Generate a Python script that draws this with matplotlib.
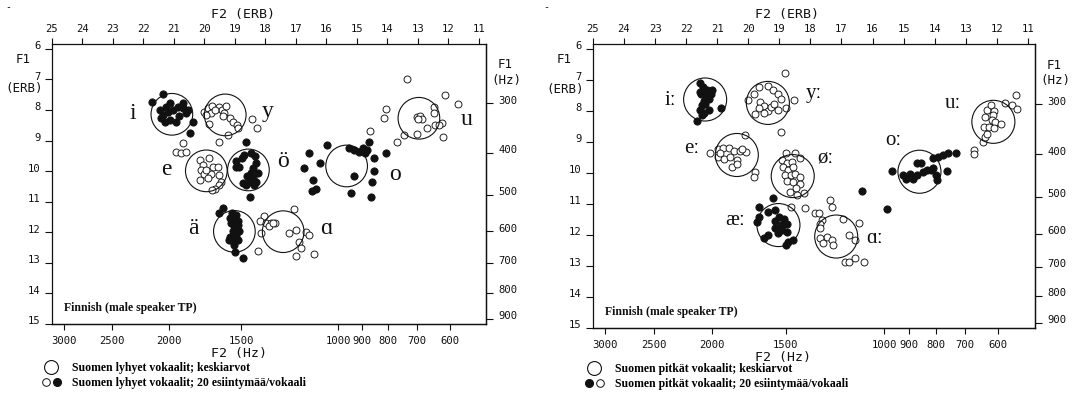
import matplotlib
matplotlib.use("Agg")
import matplotlib.pyplot as plt
import numpy as np
from matplotlib.lines import Line2D
from matplotlib.legend_handler import HandlerTuple
from matplotlib.transforms import ScaledTranslation

# ---------------- data (ERB units: F2 = x, F1 = y) ----------------
# Short vowels (left panel)
S_I_F2 = [21.71, 21.36, 20.38, 20.46, 21.47, 21.36, 21.25, 21.14, 21.03, 20.87, 20.71, 20.60, 20.82, 21.14, 21.31, 20.92, 21.42, 20.71, 20.54, 21.20]
S_I_F1 = [7.74, 7.48, 8.38, 8.76, 7.99, 8.16, 7.89, 7.78, 7.99, 7.89, 7.94, 8.10, 8.21, 8.32, 8.38, 8.38, 8.27, 7.78, 7.99, 8.05]
S_Y_F2 = [20.00, 19.89, 19.75, 19.80, 19.95, 19.86, 19.51, 19.42, 19.35, 19.18, 19.07, 18.94, 18.91, 19.22, 19.51, 18.45, 18.29, 19.38, 19.67, 19.29]
S_Y_F1 = [8.05, 7.94, 7.86, 8.10, 8.16, 8.45, 7.89, 8.00, 8.10, 8.27, 8.38, 8.49, 8.59, 8.81, 9.03, 8.30, 8.59, 8.21, 8.00, 7.86]
S_E_F2 = [20.93, 20.76, 20.71, 20.60, 20.16, 20.05, 20.11, 20.03, 20.16, 19.84, 19.73, 19.78, 19.57, 19.51, 19.46, 19.51, 19.64, 19.75, 19.95, 19.89]
S_E_F1 = [9.36, 9.41, 9.08, 9.36, 9.63, 9.79, 9.96, 10.09, 10.28, 9.57, 9.85, 10.09, 9.85, 10.12, 10.34, 10.45, 10.58, 10.63, 9.96, 10.23]
S_OE_F2 = [18.64, 18.51, 18.97, 18.97, 18.69, 18.48, 18.34, 18.31, 18.40, 18.48, 18.42, 18.31, 18.64, 18.75, 18.53, 18.26, 18.86, 18.59, 18.77, 18.37]
S_OE_F1 = [9.06, 10.83, 9.68, 9.85, 9.47, 9.41, 9.52, 9.74, 9.90, 10.06, 10.23, 10.34, 10.45, 10.39, 10.34, 10.06, 9.85, 10.17, 9.57, 10.45]
S_AE_F2 = [19.38, 19.51, 19.18, 19.07, 18.97, 19.13, 19.02, 18.91, 19.07, 19.18, 18.97, 18.91, 19.07, 19.21, 19.02, 18.99, 18.73, 18.91, 19.10, 18.86]
S_AE_F1 = [11.21, 11.37, 11.54, 11.59, 11.43, 11.70, 11.81, 11.75, 11.97, 12.14, 12.08, 12.24, 12.30, 12.24, 12.41, 12.63, 12.84, 11.64, 11.37, 11.97]
S_A_F2 = [18.06, 18.17, 17.99, 17.82, 17.68, 18.15, 18.23, 17.06, 17.90, 17.22, 17.00, 16.67, 16.57, 16.89, 16.84, 17.00, 16.40, 17.76]
S_A_F1 = [11.46, 11.64, 11.70, 11.70, 11.70, 12.03, 12.60, 11.23, 11.81, 12.03, 11.94, 12.00, 12.10, 12.33, 12.52, 12.77, 12.71, 11.70]
S_O_F2 = [15.97, 16.57, 16.22, 16.73, 16.44, 16.46, 16.33, 15.26, 15.10, 14.93, 14.80, 14.74, 14.61, 14.66, 14.44, 14.06, 14.44, 14.50, 14.55, 15.20, 15.10]
S_O_F1 = [9.14, 9.39, 9.74, 9.90, 10.28, 10.66, 10.59, 9.25, 9.30, 9.36, 9.25, 9.41, 9.03, 9.30, 9.57, 9.41, 10.01, 10.34, 10.83, 10.72, 10.17]
S_U_F2 = [13.35, 12.10, 11.69, 14.04, 14.12, 14.57, 13.68, 13.46, 13.03, 12.70, 12.43, 12.21, 12.18, 12.48, 12.48, 13.03, 12.95, 12.88, 12.99, 12.30]
S_U_F1 = [6.99, 7.50, 7.81, 7.96, 8.27, 8.67, 9.03, 8.81, 8.78, 8.59, 8.48, 8.43, 8.87, 7.89, 8.10, 8.23, 8.19, 8.28, 8.30, 8.48]

SHORT_LABELS = ["i", "y", "e", "ö", "ä", "ɑ", "o", "u"]
SHORT_MEAN_F2 = [21.07, 19.32, 19.94, 18.56, 19.02, 17.42, 15.34, 12.97]
SHORT_MEAN_F1 = [8.14, 8.16, 9.99, 9.96, 11.97, 11.98, 9.83, 8.27]
SHORT_LABEL_F2 = [22.34, 17.93, 21.25, 17.44, 20.38, 16.02, 13.74, 11.40]
SHORT_LABEL_F1 = [8.10, 8.05, 9.96, 9.69, 11.86, 11.86, 10.12, 8.32]
SHORT_FILLED = [True, False, False, True, True, False, True, False]

# Long vowels (right panel)
L_I_F2 = [21.55, 21.47, 21.34, 21.21, 21.25, 21.42, 21.50, 21.57, 21.44, 21.57, 21.28, 20.89, 21.66, 21.36, 21.53, 21.50, 21.18, 21.39]
L_I_F1 = [7.09, 7.22, 7.33, 7.44, 7.60, 7.67, 7.81, 7.97, 8.08, 7.38, 7.97, 7.89, 8.32, 7.49, 7.44, 8.13, 7.33, 7.76]
L_Y_F2 = [18.81, 20.00, 19.81, 19.64, 19.38, 19.19, 19.03, 18.95, 18.78, 18.52, 19.62, 19.49, 19.38, 19.28, 19.17, 19.06, 19.67, 19.80, 19.51, 18.95]
L_Y_F1 = [6.79, 7.65, 7.44, 7.24, 7.20, 7.31, 7.46, 7.63, 7.92, 7.65, 7.70, 7.84, 7.99, 7.87, 7.76, 7.97, 7.89, 8.10, 8.06, 8.67]
L_E_F2 = [20.10, 21.23, 20.99, 20.82, 20.62, 20.46, 20.26, 20.07, 20.96, 20.78, 20.59, 20.35, 20.53, 20.35, 19.78, 19.81, 20.91, 20.21]
L_E_F1 = [8.78, 9.35, 9.24, 9.18, 9.18, 9.28, 9.28, 9.32, 9.50, 9.56, 9.48, 9.59, 9.80, 9.71, 9.96, 10.12, 9.37, 9.24]
L_OE_F2 = [18.78, 18.49, 18.33, 18.92, 18.76, 18.60, 18.87, 18.71, 18.55, 18.81, 18.63, 18.49, 18.33, 18.76, 18.55, 18.33, 18.46, 18.22, 18.65, 18.42]
L_OE_F1 = [9.37, 9.35, 9.53, 9.59, 9.69, 9.64, 9.80, 9.91, 9.82, 10.07, 10.07, 10.02, 10.12, 10.25, 10.28, 10.34, 10.50, 10.66, 10.61, 10.71]
L_AE_F2 = [19.21, 19.64, 19.35, 19.14, 19.67, 19.71, 19.14, 19.00, 18.85, 18.74, 18.95, 19.14, 19.06, 18.92, 18.76, 19.38, 19.49, 18.71, 18.57, 18.78]
L_AE_F1 = [10.82, 11.09, 11.25, 11.20, 11.41, 11.58, 11.54, 11.41, 11.47, 11.63, 11.68, 11.76, 11.95, 11.84, 11.90, 12.01, 12.11, 12.22, 12.17, 12.33]
L_A_F2 = [17.36, 17.31, 18.17, 17.85, 17.74, 17.63, 17.69, 17.69, 16.96, 16.45, 16.77, 16.56, 17.47, 17.31, 17.26, 17.69, 17.58, 16.88, 16.77, 16.56, 16.29, 18.62]
L_A_F1 = [10.87, 11.09, 11.14, 11.28, 11.30, 11.52, 11.63, 11.79, 11.50, 11.60, 12.00, 12.16, 12.06, 12.16, 12.32, 12.11, 12.27, 12.86, 12.86, 12.75, 12.86, 11.10]
L_O_F2 = [15.38, 15.01, 14.92, 14.79, 14.69, 14.56, 14.45, 14.36, 14.24, 14.13, 14.04, 13.96, 13.93, 13.61, 14.04, 13.88, 13.72, 13.56, 13.32, 16.35, 15.52, 14.56]
L_O_F1 = [9.94, 10.07, 10.18, 10.02, 10.18, 9.67, 9.67, 9.96, 9.91, 9.91, 9.85, 10.07, 10.23, 9.93, 9.51, 9.50, 9.42, 9.35, 9.35, 10.59, 11.15, 10.07]
L_U_F2 = [12.73, 12.73, 12.43, 12.38, 12.32, 12.41, 12.38, 12.32, 12.20, 12.09, 12.11, 12.16, 12.06, 11.87, 12.24, 12.09, 11.73, 11.52, 11.39, 11.36]
L_U_F1 = [9.26, 9.39, 8.99, 8.85, 8.73, 8.51, 8.19, 7.97, 7.81, 7.99, 8.13, 8.30, 8.35, 8.42, 8.51, 8.56, 7.74, 7.81, 7.49, 7.95]

LONG_LABELS = ["iː", "yː", "eː", "øː", "æː", "ɑː", "oː", "uː"]
LONG_MEAN_F2 = [21.39, 19.37, 20.37, 18.57, 19.03, 17.17, 14.49, 12.11]
LONG_MEAN_F1 = [7.63, 7.74, 9.42, 10.10, 11.68, 12.05, 9.96, 8.35]
LONG_LABEL_F2 = [22.52, 17.90, 21.82, 17.53, 20.42, 15.92, 15.33, 13.40]
LONG_LABEL_F1 = [7.65, 7.44, 9.21, 9.53, 11.54, 12.11, 8.94, 7.76]
LONG_FILLED = [True, False, False, False, True, False, True, False]

ERB_TICKS = list(range(25, 10, -1))
ERB_F1_TICKS = list(range(6, 16))
HZ_F2_TICKS = [3000, 2500, 2000, 1500, 1000, 900, 800, 700, 600, 500]
HZ_F1_TICKS = [200, 300, 400, 500, 600, 700, 800, 900]

SHORT_TOKENS = [(S_I_F2, S_I_F1), (S_Y_F2, S_Y_F1), (S_E_F2, S_E_F1), (S_OE_F2, S_OE_F1),
                (S_AE_F2, S_AE_F1), (S_A_F2, S_A_F1), (S_O_F2, S_O_F1), (S_U_F2, S_U_F1)]
LONG_TOKENS = [(L_I_F2, L_I_F1), (L_Y_F2, L_Y_F1), (L_E_F2, L_E_F1), (L_OE_F2, L_OE_F1),
               (L_AE_F2, L_AE_F1), (L_A_F2, L_A_F1), (L_O_F2, L_O_F1), (L_U_F2, L_U_F1)]


def hz2erb(f):
    f = np.asarray(f, dtype=float)
    with np.errstate(invalid="ignore", divide="ignore"):
        return 21.4 * np.log10(0.00437 * f + 1.0)


def erb2hz(e):
    e = np.asarray(e, dtype=float)
    return (10 ** (e / 21.4) - 1.0) / 0.00437


MONO = "DejaVu Sans Mono"
SERIF = ["Liberation Serif", "DejaVu Serif"]
INK = "#111111"
TICK_FS = 7.6

plt.rcParams["font.family"] = MONO
plt.rcParams["axes.linewidth"] = 0.9

fig = plt.figure(figsize=(10.8, 3.94), dpi=100)
fig.patch.set_facecolor("white")


def setup(ax, tokens, means_f2, means_f1, labels, lab_f2, lab_f1, filled, circle_s, label_size,
          legend_word, legend_pair_order, legend_anchor, erb_label_y):
    ax.set_xlim(25, 10.77)
    ax.set_ylim(15, 5.84)
    for s in ax.spines.values():
        s.set_color(INK)
        s.set_linewidth(0.9)
    ax.xaxis.tick_top()
    ax.set_xticks(ERB_TICKS)
    ax.set_xticklabels([str(v) for v in ERB_TICKS])
    ax.set_yticks(ERB_F1_TICKS)
    ax.set_yticklabels([str(v) for v in ERB_F1_TICKS])
    ax.tick_params(axis="x", direction="out", length=4, width=0.8, pad=3, labelsize=TICK_FS, colors=INK)
    ax.tick_params(axis="y", direction="out", length=5, width=0.8, pad=3, labelsize=TICK_FS, colors=INK)
    off = ScaledTranslation(0, 2.6 / 72, fig.dpi_scale_trans)
    for lab in ax.get_yticklabels():
        lab.set_transform(lab.get_transform() + off)

    secx = ax.secondary_xaxis("bottom", functions=(erb2hz, hz2erb))
    secx.set_xticks(HZ_F2_TICKS)
    secx.set_xticklabels([str(v) for v in HZ_F2_TICKS])
    secx.tick_params(direction="out", length=4, width=0.8, pad=5, labelsize=TICK_FS, colors=INK)
    secx.spines["bottom"].set_color(INK)
    secy = ax.secondary_yaxis("right", functions=(erb2hz, hz2erb))
    secy.set_yticks(HZ_F1_TICKS)
    secy.set_yticklabels([str(v) for v in HZ_F1_TICKS])
    secy.tick_params(direction="out", length=5, width=0.8, pad=4, labelsize=TICK_FS, colors=INK)
    for lab in secy.get_yticklabels():
        lab.set_transform(lab.get_transform() + off)

    for (f2, f1), is_filled in zip(tokens, filled):
        ax.scatter(f2, f1, s=27 if is_filled else 25, marker="o",
                   facecolors=INK if is_filled else "white",
                   edgecolors=INK, linewidths=0.65, zorder=3)
    ax.scatter(means_f2, means_f1, s=circle_s, marker="o", facecolors="none",
               edgecolors=INK, linewidths=0.8, zorder=4)
    for t, x, y in zip(labels, lab_f2, lab_f1):
        ax.text(x, y, t, family=SERIF, fontsize=label_size, ha="center", va="center", color=INK)

    ax.text(0.028, 0.045, "Finnish (male speaker TP)", transform=ax.transAxes,
            family=SERIF, fontweight="bold", fontsize=8.5, color=INK)
    ax.text(0.44, 1.105, "F2 (ERB)", transform=ax.transAxes, ha="center", va="center", fontsize=9.5, color=INK)
    ax.text(0.43, -0.105, "F2 (Hz)", transform=ax.transAxes, ha="center", va="center", fontsize=9.5, color=INK)
    ax.text(-0.066, 0.945, "F1", transform=ax.transAxes, ha="center", va="center", fontsize=9, color=INK)
    ax.text(-0.064, erb_label_y, "(ERB)", transform=ax.transAxes, ha="center", va="center", fontsize=9, color=INK)
    ax.text(1.043, 0.925, "F1", transform=ax.transAxes, ha="center", va="center", fontsize=9, color=INK)
    ax.text(1.047, 0.87, "(Hz)", transform=ax.transAxes, ha="center", va="center", fontsize=9, color=INK)

    big = Line2D([], [], marker="o", linestyle="none", markersize=10, markerfacecolor="white",
                 markeredgecolor=INK, markeredgewidth=0.8)
    small_open = Line2D([], [], marker="o", linestyle="none", markersize=5.5, markerfacecolor="white",
                        markeredgecolor=INK, markeredgewidth=0.7)
    small_fill = Line2D([], [], marker="o", linestyle="none", markersize=5.8, markerfacecolor=INK,
                        markeredgecolor=INK, markeredgewidth=0.7)
    pair = (small_open, small_fill) if legend_pair_order == "open" else (small_fill, small_open)
    fig.legend([big, pair],
               ["Suomen %s vokaalit; keskiarvot" % legend_word,
                "Suomen %s vokaalit; 20 esiintymää/vokaali" % legend_word],
               handler_map={tuple: HandlerTuple(ndivide=None, pad=0.2)},
               loc="upper left", bbox_to_anchor=legend_anchor, frameon=False,
               prop={"family": SERIF, "weight": "bold", "size": 8.5},
               borderpad=0, borderaxespad=0, handlelength=1.6, handletextpad=0.9,
               labelspacing=0.25)


axL = fig.add_axes([52 / 1080, 1 - 324 / 394, 434 / 1080, 280 / 394])
axR = fig.add_axes([593 / 1080, 1 - 328 / 394, 442 / 1080, 284 / 394])

setup(axL, SHORT_TOKENS, SHORT_MEAN_F2, SHORT_MEAN_F1, SHORT_LABELS, SHORT_LABEL_F2, SHORT_LABEL_F1,
      SHORT_FILLED, 900, 17, "lyhyet", "open", (42 / 1080, 1 - 362 / 394), 0.842)
setup(axR, LONG_TOKENS, LONG_MEAN_F2, LONG_MEAN_F1, LONG_LABELS, LONG_LABEL_F2, LONG_LABEL_F1,
      LONG_FILLED, 960, 15, "pitkät", "fill", (585 / 1080, 1 - 363 / 394), 0.84)

fig.text(5 / 1080, 1 - 7 / 394, "-", fontsize=7, color=INK, va="center")
fig.text(543 / 1080, 1 - 7 / 394, "-", fontsize=7, color=INK, va="center")

fig.savefig("out.png", dpi=100, facecolor="white")
